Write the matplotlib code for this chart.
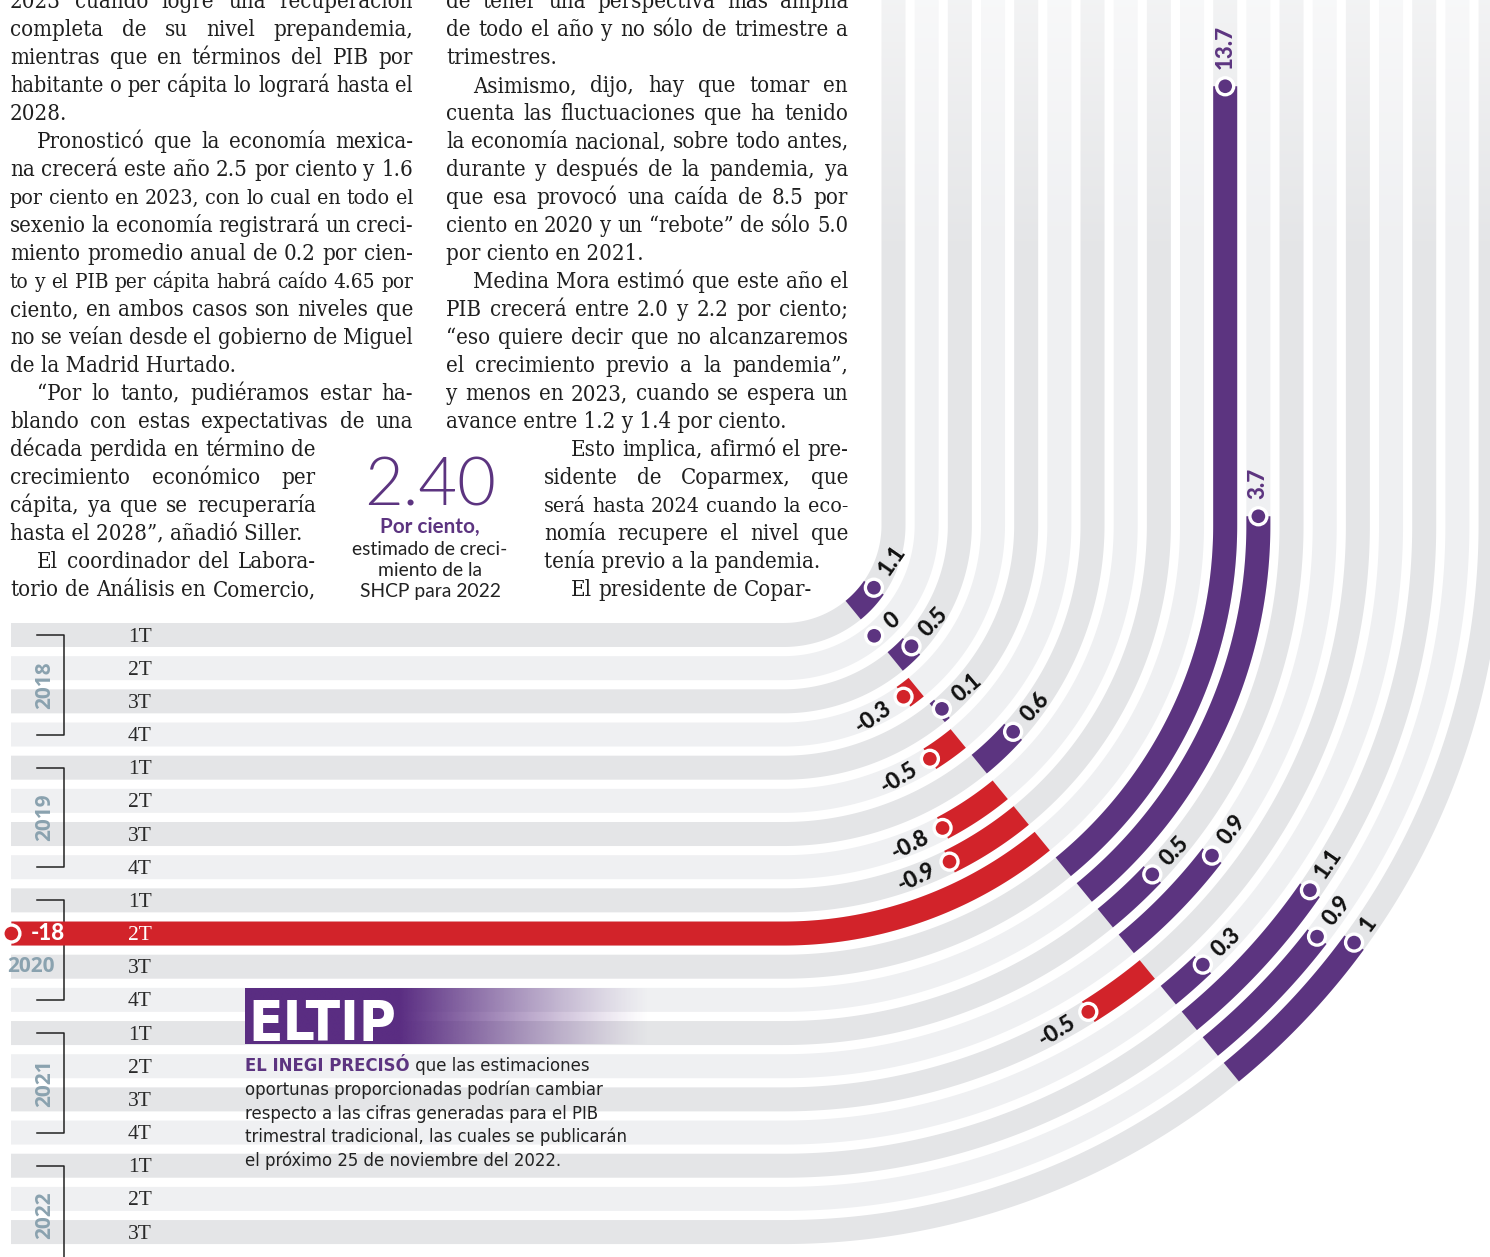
import numpy as np
import matplotlib
matplotlib.use('Agg')
import matplotlib.pyplot as plt
from matplotlib import font_manager
from matplotlib.patches import Polygon, Circle
from matplotlib.font_manager import FontProperties
from matplotlib.colors import to_rgb

#Data
###########################################################################
years = ['2018', '2019', '2020', '2021', '2022']
quarters_per_year = [4, 4, 4, 4, 3]
quarter_names = ['1T', '2T', '3T', '4T']
#quarterly GDP change, one value per quarter 2018-1T ... 2022-3T
growth = [1.1, 0, 0.5, -0.3,
          0.1, -0.5, 0.6, -0.8,
          -0.9, -18, 13.7, 3.7,
          0.5, 0.9, -0.5, 0.3,
          1.1, 0.9, 1]

# '>' = paragraph indent, '|' = last line of paragraph (not justified)
left_col = [
    "2023 cuando logre una recuperación",
    "completa de su nivel prepandemia,",
    "mientras que en términos del PIB por",
    "habitante o per cápita lo logrará hasta el",
    "2028.|",
    ">Pronosticó que la economía mexica-",
    "na crecerá este año 2.5 por ciento y 1.6",
    "por ciento en 2023, con lo cual en todo el",
    "sexenio la economía registrará un creci-",
    "miento promedio anual de 0.2 por cien-",
    "to y el PIB per cápita habrá caído 4.65 por",
    "ciento, en ambos casos son niveles que",
    "no se veían desde el gobierno de Miguel",
    "de la Madrid Hurtado.|",
    ">“Por lo tanto, pudiéramos estar ha-",
    "blando con estas expectativas de una",
    "década perdida en término de",
    "crecimiento económico per",
    "cápita, ya que se recuperaría",
    "hasta el 2028”, añadió Siller.|",
    ">El coordinador del Labora-",
    "torio de Análisis en Comercio,",
]
mid_col = [
    "de tener una perspectiva más amplia",
    "de todo el año y no sólo de trimestre a",
    "trimestres.|",
    ">Asimismo, dijo, hay que tomar en",
    "cuenta las fluctuaciones que ha tenido",
    "la economía nacional, sobre todo antes,",
    "durante y después de la pandemia, ya",
    "que esa provocó una caída de 8.5 por",
    "ciento en 2020 y un “rebote” de sólo 5.0",
    "por ciento en 2021.|",
    ">Medina Mora estimó que este año el",
    "PIB crecerá entre 2.0 y 2.2 por ciento;",
    "“eso quiere decir que no alcanzaremos",
    "el crecimiento previo a la pandemia”,",
    "y menos en 2023, cuando se espera un",
    "avance entre 1.2 y 1.4 por ciento.|",
    ">Esto implica, afirmó el pre-",
    "sidente de Coparmex, que",
    "será hasta 2024 cuando la eco-",
    "nomía recupere el nivel que",
    "tenía previo a la pandemia.|",
    ">El presidente de Copar-",
]
callout_value = "2.40"
callout_lines = ["estimado de creci-", "miento de la", "SHCP para 2022"]
tip_title = "ELTIP"
tip_bold = "EL INEGI PRECISÓ"
tip_lines = [" que las estimaciones",
             "oportunas proporcionadas podrían cambiar",
             "respecto a las cifras generadas para el PIB",
             "trimestral tradicional, las cuales se publicarán",
             "el próximo 25 de noviembre del 2022."]
###########################################################################

#Style / geometry
PURPLE = '#5c3480'
RED = '#d2232a'
GRAY_A = '#e4e5e7'
GRAY_B = '#eff0f2'
YEAR_C = '#8aa2af'
INK = '#1f1f1f'

CX, CY = 783.5, 525.0      # centre of the bend
R0, STEP = 110.0, 33.17    # radius of first track, track spacing
HALF = 12.0                # half width of a track
X_LEFT = 11.0
BASE = -50.7               # zero line angle
DEG_PER_UNIT = 14.5
K_UP, K_LEFT = 43.0, 50.5  # px per unit on the straight parts


#pick installed fonts (condensed faces if there are any)
def condensed_of(names):
    for f in font_manager.fontManager.ttflist:
        if f.name in names and f.stretch in ('condensed', 'semi-condensed', 'extra-condensed'):
            return f.name
    return None

installed = {f.name for f in font_manager.fontManager.ttflist}
SANS_C = condensed_of(['Roboto Condensed', 'Liberation Sans Narrow', 'Noto Sans', 'Open Sans',
                       'DejaVu Sans', 'Roboto'])
if SANS_C is None:
    SANS_C = 'Liberation Sans Narrow' if 'Liberation Sans Narrow' in installed else 'Liberation Sans'
SERIF_C = condensed_of(['DejaVu Serif'])
SERIF = 'DejaVu Serif' if SERIF_C else 'Liberation Serif'

fig = plt.figure(figsize=(14.9, 12.57), dpi=100)
ax = fig.add_axes([0, 0, 1, 1])
renderer = fig.canvas.get_renderer()


def track_point(r, v):
    #centre point, outward normal and text rotation for value v on a track
    phi = BASE + v * DEG_PER_UNIT
    if phi > 0:
        extra = phi / DEG_PER_UNIT * K_UP
        return np.array([CX + r, CY - extra]), np.array([1.0, 0.0]), 90.0
    if phi < -90:
        extra = (-90 - phi) / DEG_PER_UNIT * K_LEFT
        return np.array([CX - extra, CY + r]), np.array([0.0, 1.0]), 0.0
    t = np.radians(phi)
    return (np.array([CX + r * np.cos(t), CY - r * np.sin(t)]),
            np.array([np.cos(t), -np.sin(t)]), phi + 90)


def band(r, v0, v1, n):
    outer = []
    inner = []
    for v in np.linspace(v0, v1, n):
        p, nrm, rot = track_point(r, v)
        outer.append(p + HALF * nrm)
        inner.append(p - HALF * nrm)
    return np.array(outer + inner[::-1])


def text_width(s, fp):
    w, h, d = renderer.get_text_width_height_descent(s, fp, ismath=False)
    return w


def fitted(fp, s, width):
    fp = fp.copy()
    fp.set_size(fp.get_size() * width / text_width(s, fp))
    return fp


#Tracks
###########################################################################
n_rows = len(growth)
v_left = (-90 - (CX - X_LEFT) / K_LEFT * DEG_PER_UNIT - BASE) / DEG_PER_UNIT
v_top = ((CY + 5) / K_UP * DEG_PER_UNIT - BASE) / DEG_PER_UNIT
for i in range(n_rows):
    r = R0 + STEP * i
    ax.add_patch(Polygon(band(r, v_left, v_top, 2500), closed=True,
                         fc=GRAY_A if i % 2 == 0 else GRAY_B, ec='none', zorder=1))

#light fade on top of the vertical tracks
fade = np.ones((200, 1, 4))
fade[:, 0, 3] = np.linspace(0.55, 0, 200)
ax.imshow(fade, extent=[840, 1490, 260, 0], aspect='auto', zorder=1.5)

#Bars, dots and labels
###########################################################################
fp_num = FontProperties(family='Lato', weight='black', size=16)
for i, v in enumerate(growth):
    r = R0 + STEP * i
    col = PURPLE if v >= 0 else RED
    if v != 0:
        ax.add_patch(Polygon(band(r, 0, v, 1500), closed=True, fc=col, ec='none', zorder=2))
    p, nrm, rot = track_point(r, v)
    ax.add_patch(Circle(p, 8.5, fc=col, ec='white', lw=2.4, zorder=3))

    step = 0.01 if v >= 0 else -0.01
    q = track_point(r, v + step)[0]
    d = (q - p) / np.hypot(*(q - p))
    pos = p + d * 17
    lab = '{:g}'.format(v)
    if pos[0] < 40:
        ax.text(p[0] + 19, p[1], lab, color='white', ha='left', va='center',
                fontproperties=fp_num, zorder=4)
    else:
        straight = BASE + v * DEG_PER_UNIT > 0
        ax.text(pos[0], pos[1], lab, rotation=rot, rotation_mode='anchor',
                ha='left' if v >= 0 else 'right', va='center',
                color=PURPLE if straight else '#111111', fontproperties=fp_num, zorder=4)

#Quarter labels, year brackets
###########################################################################
fp_q = FontProperties(family='Liberation Serif', size=15.5)
fp_year = FontProperties(family='Open Sans', weight='bold', size=15)
qnames = [quarter_names[q] for nq in quarters_per_year for q in range(nq)]
for i, qn in enumerate(qnames):
    r = R0 + STEP * i
    end_x = track_point(r, growth[i])[0][0]
    covered = growth[i] < 0 and end_x < 140
    ax.text(140, CY + r + 2, qn, ha='center', va='center', color='white' if covered else '#2a2a2a',
            fontproperties=fp_q, zorder=5)

row = 0
for yr, nq in zip(years, quarters_per_year):
    y_top = CY + R0 + STEP * row
    y_bot = CY + R0 + STEP * (row + 3)
    if nq == 4:
        ax.plot([37, 64, 64, 37], [y_top, y_top, y_bot, y_bot], color='#222222', lw=1.1, zorder=1.8)
    else:
        ax.plot([37, 64, 64], [y_top, y_top, 1257], color='#222222', lw=1.1, zorder=1.8)
    if yr == '2020':
        ax.text(31, y_top + 2 * STEP, yr, ha='center', va='center', color=YEAR_C,
                fontproperties=fp_year, zorder=5)
    else:
        ax.text(45, y_top + 1.5 * STEP, yr, ha='center', va='center', rotation=90,
                color=YEAR_C, fontproperties=fp_year, zorder=5)
    row += nq

#Body text columns (justified)
###########################################################################
def col_edges(name, k):
    if name == 'left':
        return 10, (413 if k < 16 else 316)
    if k < 16:
        return 446, 848
    return 544, (812 if k == 21 else 848)


def parse(line):
    indent = 27 if line.startswith('>') else 0
    just = not line.endswith('|')
    return line.strip('>|'), indent, just


base_fp = FontProperties(family=SERIF, stretch='condensed' if SERIF_C else 'normal', size=16)
ratios = []
for name, lines in [('left', left_col), ('mid', mid_col)]:
    for k, line in enumerate(lines):
        x0, x1 = col_edges(name, k)
        s, indent, just = parse(line)
        ratios.append((x1 - x0 - indent) / text_width(s, base_fp))
body_fp = base_fp.copy()
body_fp.set_size(16 * np.percentile(ratios, 20))

for name, lines in [('left', left_col), ('mid', mid_col)]:
    for k, line in enumerate(lines):
        x0, x1 = col_edges(name, k)
        s, indent, just = parse(line)
        y = 8 + 28 * k
        fp = body_fp
        avail = x1 - x0 - indent
        if text_width(s, fp) > avail:
            fp = fitted(body_fp, s, avail)
        if not just:
            ax.text(x0 + indent, y, s, va='baseline', ha='left', color=INK, fontproperties=fp)
            continue
        words = s.split(' ')
        ws = [text_width(w, fp) for w in words]
        gap = (avail - sum(ws)) / (len(words) - 1)
        x = x0 + indent
        for w, wd in zip(words, ws):
            ax.text(x, y, w, va='baseline', ha='left', color=INK, fontproperties=fp)
            x += wd + gap

#Callout 2.40
###########################################################################
fp_big = fitted(FontProperties(family='Lato', weight=300, size=50), callout_value, 132)
ax.text(430, 506, callout_value, ha='center', va='baseline', color=PURPLE, fontproperties=fp_big)
fp_pc = fitted(FontProperties(family='Lato', weight='bold', size=15), "Por ciento,", 100)
ax.text(430, 533, "Por ciento,", ha='center', va='baseline', color=PURPLE, fontproperties=fp_pc)
fp_small = fitted(FontProperties(family='Lato', size=14), callout_lines[0], 156)
for k, s in enumerate(callout_lines):
    ax.text(430, 555 + 21 * k, s, ha='center', va='baseline', color='#222222', fontproperties=fp_small)

#EL TIP box
###########################################################################
grad = np.zeros((1, 300, 4))
xs = np.linspace(245, 650, 300)
grad[..., :3] = to_rgb('#5a2d82')
grad[0, :, 3] = np.clip((650 - xs) / (650 - 400), 0, 1) ** 1.2
ax.imshow(grad, extent=[245, 650, 1044, 988], aspect='auto', interpolation='bilinear', zorder=3)

fp_title = fitted(FontProperties(family=SANS_C, stretch='condensed', weight='bold', size=40),
                  tip_title, 148)
ax.text(248, 1040, tip_title, ha='left', va='baseline', color='white', fontproperties=fp_title, zorder=4)

fp_tip = fitted(FontProperties(family=SANS_C, stretch='condensed', size=15), tip_lines[1], 358)
fp_tipb = fp_tip.copy()
fp_tipb.set_weight('bold')
ax.text(245, 1071, tip_bold, ha='left', va='baseline', color=PURPLE, fontproperties=fp_tipb, zorder=5)
bx = 245 + text_width(tip_bold, fp_tipb)
ax.text(bx, 1071, tip_lines[0], ha='left', va='baseline', color='#222222', fontproperties=fp_tip, zorder=5)
for k, s in enumerate(tip_lines[1:]):
    ax.text(245, 1095 + 23.7 * k, s, ha='left', va='baseline', color='#222222', fontproperties=fp_tip, zorder=5)

ax.set_xlim(0, 1490)
ax.set_ylim(1257, 0)
ax.axis('off')
fig.savefig('out.png', dpi=100)
